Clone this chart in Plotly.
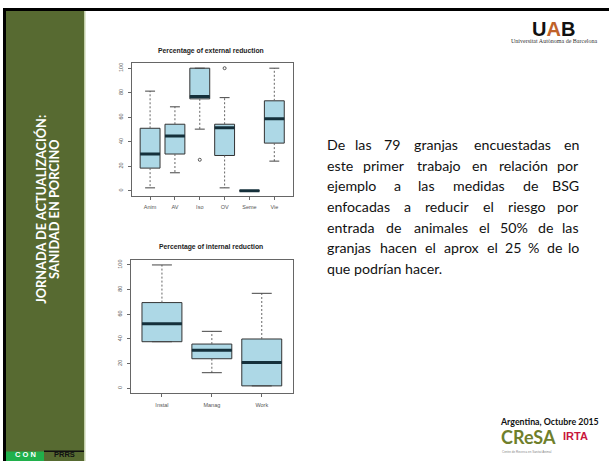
import plotly.graph_objects as go

# ---------------- data ----------------
ext_categories = ["Anim", "AV", "Iso", "OV", "Seme", "Vie"]
ext_lower = [2.4, 14.7, 50.3, 2.4, 0, 24.2]
ext_q1 = [18.5, 30.0, 75.0, 28.8, 0, 38.9]
ext_median = [30.0, 44.6, 77.0, 51.4, 0, 58.7]
ext_q3 = [51.0, 54.3, 100.0, 54.3, 0, 73.4]
ext_upper = [81.3, 68.5, 100.0, 76.0, 0, 100.0]
ext_outlier_cat = ["Iso", "OV"]
ext_outlier_val = [25.3, 100.0]

int_categories = ["Instal", "Manag", "Work"]
int_lower = [37.8, 12.7, 2.0]
int_q1 = [37.8, 24.0, 2.0]
int_median = [52.4, 30.8, 21.0]
int_q3 = [69.5, 35.9, 40.0]
int_upper = [100.0, 46.2, 77.0]
int_outlier_cat = []
int_outlier_val = []

y_ticks = [0, 20, 40, 60, 80, 100]

body_lines = [
    "De las 79 granjas encuestadas en",
    "este primer trabajo en relación por",
    "ejemplo a las medidas de BSG",
    "enfocadas a reducir el riesgo por",
    "entrada de animales el 50% de las",
    "granjas hacen el aprox el 25 % de lo",
    "que podrían hacer.",
]

# ---------------- helpers ----------------
W, H = 609, 461


def fx(p):
    return p / W


def fy(p):
    return 1 - p / H


fig = go.Figure()

BOX_FILL = "#ADD8E6"
BOX_LINE = "#333333"
MED_COLOR = "#15303b"
WHISK = "#666666"


def add_boxplot(cats, lower, q1, med, q3, upper, out_cat, out_val, xa, ya):
    pos = list(range(1, len(cats) + 1))
    idx = {c: i + 1 for i, c in enumerate(cats)}
    wx, wy, cx, cy, mx, my = [], [], [], [], [], []
    for p, lo, a, m, b, up in zip(pos, lower, q1, med, q3, upper):
        wx += [p, p, None, p, p, None]
        wy += [b, up, None, a, lo, None]
        cx += [p - 0.2, p + 0.2, None, p - 0.2, p + 0.2, None]
        cy += [up, up, None, lo, lo, None]
        mx += [p - 0.4, p + 0.4, None]
        my += [m, m, None]
    fig.add_trace(go.Scatter(x=wx, y=wy, mode="lines", xaxis=xa, yaxis=ya,
                             line=dict(color=WHISK, width=1, dash="2px,2px"),
                             showlegend=False, hoverinfo="skip"))
    fig.add_trace(go.Box(x=pos, q1=q1, median=med, q3=q3, lowerfence=q1,
                         upperfence=q3, width=0.8, whiskerwidth=0,
                         fillcolor=BOX_FILL, line=dict(color=BOX_LINE, width=1),
                         boxpoints=False, xaxis=xa, yaxis=ya,
                         showlegend=False, hoverinfo="skip"))
    fig.add_trace(go.Scatter(x=cx, y=cy, mode="lines", xaxis=xa, yaxis=ya,
                             line=dict(color="#444444", width=1),
                             showlegend=False, hoverinfo="skip"))
    fig.add_trace(go.Scatter(x=mx, y=my, mode="lines", xaxis=xa, yaxis=ya,
                             line=dict(color=MED_COLOR, width=3),
                             showlegend=False, hoverinfo="skip"))
    if out_cat:
        fig.add_trace(go.Scatter(x=[idx[c] for c in out_cat], y=out_val,
                                 mode="markers", xaxis=xa, yaxis=ya,
                                 marker=dict(symbol="circle-open", size=3,
                                             color="#555555", line=dict(width=1)),
                                 showlegend=False, hoverinfo="skip"))
    return pos


pos_e = add_boxplot(ext_categories, ext_lower, ext_q1, ext_median, ext_q3,
                    ext_upper, ext_outlier_cat, ext_outlier_val, "x", "y")
pos_i = add_boxplot(int_categories, int_lower, int_q1, int_median, int_q3,
                    int_upper, int_outlier_cat, int_outlier_val, "x2", "y2")

tickfont = dict(family="Liberation Sans, Arial, sans-serif", size=5.5, color="#555555")
common_ax = dict(showline=True, mirror=True, linecolor="#666666", linewidth=1,
                 ticks="outside", ticklen=3, tickcolor="#666666", tickwidth=1,
                 showgrid=False, zeroline=False, fixedrange=True, tickfont=tickfont)

n_e = len(ext_categories)
n_i = len(int_categories)
fig.update_layout(
    xaxis=dict(domain=[fx(131.7), fx(292.7)], anchor="y",
               range=[0.5 - 0.04 * n_e, n_e + 0.5 + 0.04 * n_e],
               tickvals=pos_e, ticktext=ext_categories, ticklabelstandoff=3,
               **common_ax),
    yaxis=dict(domain=[fy(195.7), fy(63.3)], anchor="x", range=[-4, 104],
               tickvals=y_ticks, tickangle=-90, ticklabelstandoff=3, **common_ax),
    xaxis2=dict(domain=[fx(131.0), fx(292.7)], anchor="y2",
                range=[0.5 - 0.04 * n_i, n_i + 0.5 + 0.04 * n_i],
                tickvals=pos_i, ticktext=int_categories, ticklabelstandoff=3,
                **common_ax),
    yaxis2=dict(domain=[fy(393.3), fy(260.0)], anchor="x2", range=[-4, 104],
                tickvals=y_ticks, tickangle=-90, ticklabelstandoff=3, **common_ax),
    width=W, height=H, margin=dict(l=0, r=0, t=0, b=0),
    paper_bgcolor="white", plot_bgcolor="white", showlegend=False,
)

# ---------------- slide decorations ----------------
shapes = []


def rect(x0, y0, x1, y1, color):
    shapes.append(dict(type="rect", xref="paper", yref="paper",
                       x0=fx(x0), x1=fx(x1), y0=fy(y1), y1=fy(y0),
                       fillcolor=color, line=dict(width=0), layer="below"))


rect(3, 8, 609, 11, "#000000")
rect(3, 8, 6, 461, "#000000")
rect(6, 11, 84, 461, "#576a31")
rect(84, 11, 85.5, 461, "#c3cfaa")
rect(6, 451.5, 44, 461, "#20b04b")
rect(44, 450.5, 84, 452, "#111111")
fig.update_layout(shapes=shapes)

ann = []


def text(x, y, s, size, color="#000000", family="Lato, sans-serif", xanchor="center",
         yanchor="middle", angle=0, bold=False):
    if bold:
        s = "<b>" + s + "</b>"
    ann.append(dict(x=fx(x), y=fy(y), xref="paper", yref="paper", text=s,
                    showarrow=False, xanchor=xanchor, yanchor=yanchor,
                    textangle=angle,
                    font=dict(size=size, color=color, family=family)))


# chart titles
text(211, 50.5, "Percentage of external reduction", 6.8, "#222222",
     "Liberation Sans, Arial, sans-serif", bold=True)
text(211, 246.5, "Percentage of internal reduction", 6.8, "#222222",
     "Liberation Sans, Arial, sans-serif", bold=True)

# sidebar text
text(40.8, 209, "JORNADA DE ACTUALIZACIÓN:", 12.8, "#ffffff", angle=-90, bold=True)
text(54.0, 209, "SANIDAD EN PORCINO", 12.8, "#ffffff", angle=-90, bold=True)
text(25, 461, "C O N", 7.5, "#ffffff", "Liberation Sans, sans-serif",
     yanchor="bottom", bold=True)
text(64, 461, "PRRS", 7.5, "#111111", "Liberation Sans, sans-serif",
     yanchor="bottom", bold=True)

# logos
text(553.5, 28.5, "U<span style='color:#c0622a'>A</span>B", 20, "#111111",
     "Liberation Sans, Arial, sans-serif", bold=True)
text(553.5, 41, "Universitat Autònoma de Barcelona", 6, "#333333",
     "Liberation Serif, serif")
text(549.5, 421, "Argentina, Octubre 2015", 8.8, "#111111", bold=True)
text(528, 437, "CReSA", 18, "#6f7f2c", "Lato, sans-serif", bold=True)
text(575, 436, "IRTA", 11, "#c8163c", "Liberation Sans, sans-serif", bold=True)
text(527, 451.5, "Centre de Recerca en Sanitat Animal", 3, "#888888",
     "Liberation Sans, sans-serif")

# justified body text (word-by-word layout using approximate glyph widths)
cw = {"a": .479, "b": .525, "c": .423, "d": .525, "e": .498, "f": .305, "g": .471,
      "h": .525, "i": .229, "j": .239, "k": .455, "l": .229, "m": .799, "n": .525,
      "o": .527, "p": .525, "q": .525, "r": .349, "s": .391, "t": .335, "u": .525,
      "v": .452, "w": .715, "x": .433, "y": .453, "z": .395, "B": .544, "D": .615,
      "G": .631, "S": .459, "%": .715, ".": .252, "ó": .527, "í": .229}
FS_MODEL = 16.0
BODY_FS = 14.2
X0, X1 = 325, 581


def wmodel(w):
    return sum(cw.get(c, .507) for c in w) * FS_MODEL


for i, line in enumerate(body_lines):
    y = 145 + i * 20.5
    if i == len(body_lines) - 1:
        text(X0, y, line, BODY_FS, "#111111", xanchor="left")
        continue
    words = line.split()
    ws = [wmodel(w) for w in words]
    gap = (X1 - X0 - sum(ws)) / (len(words) - 1)
    x = X0
    for j, (w, wd) in enumerate(zip(words, ws)):
        if j == 0:
            text(X0, y, w, BODY_FS, "#111111", xanchor="left")
        elif j == len(words) - 1:
            text(X1, y, w, BODY_FS, "#111111", xanchor="right")
        else:
            text(x + wd / 2, y, w, BODY_FS, "#111111")
        x += wd + gap

fig.update_layout(annotations=ann)

fig.write_html("out.html",
               config={"displayModeBar": False},
               post_script="document.body.style.margin='0';"
                           "document.body.style.overflow='hidden';")
